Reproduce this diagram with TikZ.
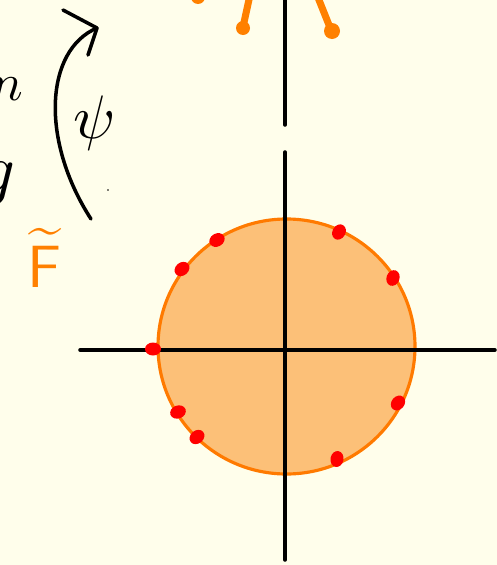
\documentclass[tikz,border=0pt]{standalone}
\usepackage{xcolor}
\usepackage{tikz}
\usetikzlibrary{arrows.meta,positioning,calc}
\definecolor{paper}{HTML}{FFFEEB}
\definecolor{disc}{HTML}{FCC078}
\definecolor{rim}{HTML}{FF7A00}
\definecolor{pen}{HTML}{FF8000}

\begin{document}
\begin{tikzpicture}[x=0.02cm,y=-0.02cm,
  axis/.style={line width=2pt,line cap=round},
  leg/.style={pen,line width=4pt,line cap=round},
  blob/.style={fill=pen,draw=none},
  pt/.style={fill=red,draw=none},
  ink/.style={line width=2pt,line cap=round,line join=round},
  lab/.style={inner sep=0pt}]
\fill[paper] (0,0) rectangle (497,565);
\useasboundingbox (0,0) rectangle (497,565);
% top part of the figure, cut off
\draw[axis] (285,-10) -- (285,125);
\draw[leg] (250,-5) -- (243,27);
\draw[leg] (317,-5) -- (331,30);
\fill[blob] (243,28) circle (7);
\fill[blob] (332,31) circle (8);
\fill[blob] (198,-3) circle (7);
% disc with axes
\filldraw[fill=disc,draw=rim,line width=1.8pt] (286.5,346.5) ellipse (128.5 and 127.5);
\draw[axis] (80,350) -- (495,350);
\draw[axis] (285,152) -- (285,560);
% marked points on the rim
\foreach \px/\py/\ang in {217/240/30,182/269/40,153/349/0,178/412/20,197/437/40,
                           339/232/60,393/278/70,398/403/50,337/459/80}
  \fill[pt,rotate around={\ang:(\px,\py)}] (\px,\py) ellipse (8 and 6.5);
% labels
\node[lab,anchor=base east,scale=3] (en) at (24,100) {$n$};
\node[lab,anchor=base east,scale=4] (ge) at (17,192) {$g$};
\node[lab,anchor=base,scale=3.5] (psi) at (95,138) {$\psi$};
\node[lab,anchor=base,pen,scale=3.4] (ft) at (45,287) {$\widetilde{\mathsf{F}}$};
% map arrow
\coordinate (lo) at (91,219);
\coordinate (hi) at (97,28);
\draw[ink] (lo) .. controls (40,140) and (45,50) .. (hi);
\draw[ink] (63,10) -- (hi) -- (88,55);
\fill (108,190) circle (0.8);
\end{tikzpicture}
\end{document}
